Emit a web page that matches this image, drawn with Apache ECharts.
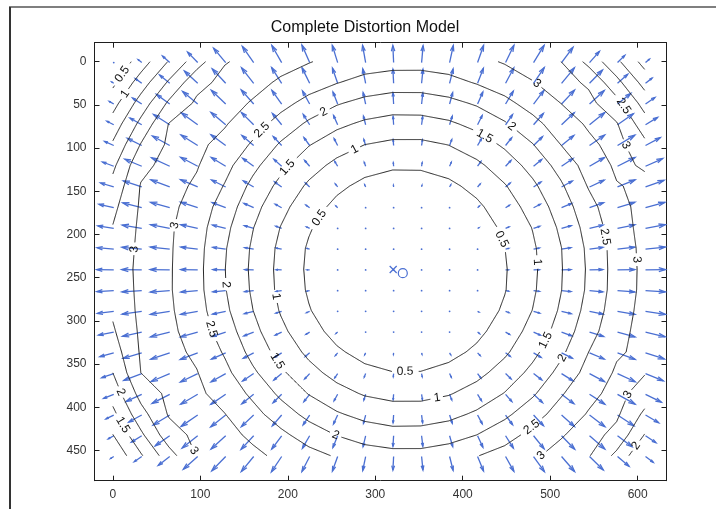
<!DOCTYPE html>
<html>
<head>
<meta charset="utf-8">
<script src="https://cdn.jsdelivr.net/npm/echarts@6/dist/echarts.min.js"></script>
<style>
html,body{margin:0;padding:0;background:#fff;}
#c{width:719px;height:511px;}
</style>
</head>
<body>
<div id="c"></div>
<script>
// Sample positions of the distortion field (image pixel coordinates, 640x480 sensor)
const gridX = [0,32,64,96,128,160,192,224,256,288,320,352,384,416,448,480,512,544,576,608];
const gridY = [0,24,48,72,96,120,144,168,192,216,240,264,288,312,336,360,384,408,432,456];

// Horizontal displacement (pixels) at each sample, one row per gridY value
const DX = [
[-0.04,-0.57,-1.13,-1.58,-1.90,-1.78,-1.54,-1.21,-0.84,-0.48,-0.12,0.23,0.58,0.94,1.31,1.65,1.79,1.55,1.14,0.61],
[-0.32,-1.00,-1.59,-2.08,-2.11,-1.90,-1.57,-1.19,-0.81,-0.45,-0.11,0.21,0.55,0.91,1.28,1.67,2.01,2.03,1.60,1.03],
[-0.70,-1.43,-2.08,-2.36,-2.25,-1.95,-1.53,-1.12,-0.73,-0.39,-0.10,0.19,0.48,0.82,1.21,1.62,2.03,2.30,2.07,1.47],
[-1.07,-1.85,-2.53,-2.55,-2.31,-1.91,-1.45,-1.00,-0.64,-0.34,-0.08,0.16,0.42,0.72,1.09,1.53,1.99,2.38,2.48,1.89],
[-1.43,-2.26,-2.70,-2.62,-2.30,-1.84,-1.32,-0.89,-0.55,-0.28,-0.07,0.13,0.34,0.62,0.97,1.40,1.93,2.37,2.71,2.31],
[-1.77,-2.65,-2.85,-2.68,-2.26,-1.72,-1.21,-0.78,-0.45,-0.22,-0.05,0.09,0.27,0.51,0.85,1.28,1.79,2.33,2.74,2.70],
[-2.06,-2.87,-2.95,-2.69,-2.21,-1.61,-1.10,-0.67,-0.36,-0.15,-0.03,0.06,0.19,0.41,0.73,1.16,1.68,2.29,2.75,2.90],
[-2.31,-2.97,-2.99,-2.67,-2.12,-1.52,-1.00,-0.58,-0.27,-0.08,-0.02,0.03,0.11,0.30,0.63,1.06,1.59,2.19,2.72,3.03],
[-2.49,-3.05,-3.01,-2.65,-2.06,-1.45,-0.92,-0.49,-0.19,-0.05,-0.01,0.01,0.07,0.21,0.54,0.96,1.52,2.12,2.71,3.10],
[-2.61,-3.10,-3.04,-2.65,-2.02,-1.41,-0.87,-0.43,-0.14,-0.03,0.00,0.01,0.04,0.16,0.48,0.91,1.46,2.08,2.69,3.11],
[-2.67,-3.13,-3.05,-2.65,-2.01,-1.40,-0.86,-0.42,-0.13,-0.03,0.00,0.00,0.04,0.15,0.46,0.90,1.46,2.07,2.70,3.11],
[-2.65,-3.11,-3.04,-2.65,-2.02,-1.42,-0.87,-0.44,-0.15,-0.03,0.00,0.00,0.04,0.16,0.47,0.92,1.47,2.08,2.70,3.11],
[-2.55,-3.08,-3.03,-2.67,-2.06,-1.46,-0.92,-0.49,-0.18,-0.06,-0.01,0.02,0.07,0.21,0.53,0.97,1.52,2.13,2.72,3.11],
[-2.39,-3.01,-3.01,-2.69,-2.14,-1.54,-1.00,-0.58,-0.26,-0.09,-0.02,0.03,0.11,0.30,0.62,1.06,1.59,2.20,2.74,3.08],
[-2.17,-2.92,-2.97,-2.72,-2.23,-1.62,-1.10,-0.68,-0.36,-0.15,-0.03,0.06,0.18,0.40,0.73,1.17,1.69,2.30,2.76,2.95],
[-1.89,-2.80,-2.91,-2.71,-2.29,-1.73,-1.22,-0.79,-0.46,-0.22,-0.05,0.09,0.27,0.51,0.86,1.29,1.81,2.35,2.77,2.80],
[-1.58,-2.43,-2.76,-2.66,-2.33,-1.86,-1.34,-0.90,-0.56,-0.28,-0.07,0.13,0.34,0.62,0.98,1.41,1.94,2.40,2.75,2.48],
[-1.23,-2.03,-2.60,-2.60,-2.35,-1.93,-1.46,-1.02,-0.65,-0.34,-0.08,0.16,0.42,0.73,1.10,1.55,2.01,2.41,2.56,2.07],
[-0.86,-1.61,-2.28,-2.44,-2.29,-1.98,-1.56,-1.13,-0.74,-0.40,-0.10,0.19,0.49,0.83,1.22,1.65,2.06,2.39,2.27,1.64],
[-0.48,-1.18,-1.80,-2.25,-2.18,-1.94,-1.61,-1.21,-0.82,-0.45,-0.11,0.21,0.55,0.93,1.30,1.70,2.04,2.16,1.80,1.21]
];

// Vertical displacement (pixels, image y downwards) at each sample
const DY = [
[-0.03,-0.47,-1.04,-1.65,-2.29,-2.56,-2.71,-2.77,-2.74,-2.71,-2.69,-2.68,-2.70,-2.72,-2.74,-2.72,-2.42,-1.78,-1.14,-0.54],
[-0.21,-0.74,-1.32,-1.96,-2.30,-2.46,-2.50,-2.45,-2.39,-2.29,-2.23,-2.22,-2.27,-2.37,-2.42,-2.47,-2.45,-2.11,-1.44,-0.82],
[-0.42,-0.94,-1.53,-1.98,-2.18,-2.24,-2.17,-2.06,-1.91,-1.81,-1.75,-1.75,-1.80,-1.89,-2.04,-2.15,-2.21,-2.13,-1.67,-1.04],
[-0.56,-1.07,-1.64,-1.88,-1.97,-1.93,-1.80,-1.63,-1.48,-1.37,-1.30,-1.30,-1.36,-1.47,-1.61,-1.78,-1.90,-1.93,-1.75,-1.18],
[-0.64,-1.13,-1.50,-1.66,-1.69,-1.60,-1.42,-1.24,-1.09,-0.96,-0.90,-0.89,-0.95,-1.09,-1.24,-1.40,-1.59,-1.66,-1.65,-1.24],
[-0.67,-1.11,-1.34,-1.42,-1.39,-1.26,-1.09,-0.91,-0.75,-0.63,-0.56,-0.56,-0.63,-0.74,-0.91,-1.07,-1.24,-1.37,-1.40,-1.22],
[-0.63,-0.97,-1.12,-1.16,-1.10,-0.95,-0.80,-0.63,-0.48,-0.35,-0.28,-0.28,-0.35,-0.48,-0.63,-0.79,-0.94,-1.09,-1.13,-1.06],
[-0.54,-0.76,-0.86,-0.87,-0.81,-0.69,-0.55,-0.41,-0.27,-0.15,-0.11,-0.11,-0.16,-0.28,-0.41,-0.55,-0.68,-0.79,-0.86,-0.84],
[-0.40,-0.54,-0.60,-0.60,-0.54,-0.45,-0.35,-0.24,-0.13,-0.07,-0.04,-0.04,-0.07,-0.13,-0.24,-0.34,-0.44,-0.53,-0.58,-0.59],
[-0.23,-0.30,-0.33,-0.33,-0.29,-0.24,-0.18,-0.12,-0.06,-0.02,-0.01,-0.01,-0.02,-0.05,-0.12,-0.18,-0.23,-0.28,-0.32,-0.33],
[-0.04,-0.05,-0.06,-0.06,-0.05,-0.04,-0.03,-0.02,-0.01,0.00,0.00,0.00,0.00,-0.01,-0.02,-0.03,-0.04,-0.05,-0.06,-0.06],
[0.15,0.20,0.22,0.22,0.19,0.16,0.12,0.08,0.04,0.01,0.00,0.00,0.02,0.04,0.08,0.12,0.15,0.19,0.21,0.21],
[0.33,0.44,0.49,0.49,0.44,0.37,0.28,0.20,0.10,0.06,0.03,0.03,0.05,0.11,0.20,0.28,0.36,0.43,0.48,0.48],
[0.48,0.67,0.75,0.77,0.70,0.60,0.48,0.36,0.23,0.13,0.09,0.09,0.13,0.24,0.36,0.48,0.59,0.69,0.75,0.74],
[0.60,0.89,1.01,1.05,1.00,0.86,0.72,0.58,0.44,0.31,0.25,0.24,0.31,0.43,0.56,0.71,0.85,0.98,1.03,0.97],
[0.66,1.08,1.26,1.33,1.30,1.17,1.01,0.85,0.70,0.58,0.51,0.51,0.58,0.69,0.84,1.00,1.15,1.27,1.30,1.16],
[0.66,1.13,1.44,1.57,1.59,1.51,1.34,1.17,1.03,0.91,0.85,0.84,0.90,1.02,1.16,1.32,1.49,1.56,1.56,1.24],
[0.61,1.11,1.58,1.80,1.88,1.84,1.71,1.55,1.41,1.31,1.24,1.24,1.29,1.40,1.54,1.69,1.81,1.85,1.71,1.22],
[0.49,1.01,1.60,1.94,2.11,2.16,2.10,1.97,1.84,1.73,1.68,1.68,1.73,1.82,1.95,2.07,2.13,2.10,1.74,1.11],
[0.31,0.83,1.42,2.02,2.27,2.39,2.44,2.38,2.31,2.21,2.16,2.15,2.20,2.30,2.35,2.40,2.38,2.14,1.55,0.92]
];

const principalPoint = [331.5, 244.8];
const imageCenter = [320.5, 240.5];
const contourLevels = [0.5, 1, 1.5, 2, 2.5, 3];
// Contour labels: level and the place along the line where the label sits
const contourLabels = [
  [0.5, 229, 176], [0.5, 443, 206], [0.5, 334, 360], [0.5, 10, 14],
  [1, 273, 94], [1, 485, 232], [1, 371, 391], [1, 185, 272], [1, 18, 40],
  [1.5, 199, 122], [1.5, 193, 343], [1.5, 494, 322], [1.5, 440, 62], [1.5, 12, 420],
  [2, 239, 54], [2, 460, 70], [2, 132, 258], [2, 507, 339], [2, 252, 438], [2, 15, 380], [2, 600, 446],
  [2.5, 561, 203], [2.5, 122, 307], [2.5, 466, 405], [2.5, 150, 60], [2.5, 586, 50],
  [3, 77, 191], [3, 10, 216], [3, 485, 25], [3, 600, 229], [3, 592, 94], [3, 80, 456], [3, 487, 455], [3, 595, 388]
];
const xTicks = [0, 100, 200, 300, 400, 500, 600];
const yTicks = [0, 50, 100, 150, 200, 250, 300, 350, 400, 450];

const FONT = '"Liberation Sans", Arial, Helvetica, sans-serif';
const arrowColor = '#4a6fd2';
const arrowScale = 7.3;

// magnitude of the displacement at every sample
const MAG = DY.map((row, j) => row.map((v, i) => Math.hypot(DX[j][i], v)));

// iso-lines of the magnitude on the sample grid (marching squares, linear edges)
function isoLines(level) {
  const segs = [];
  const nx = gridX.length, ny = gridY.length;
  const cross = (a, b) => (a >= level) !== (b >= level);
  function edge(type, i, j) {
    let a, b, pa, pb;
    if (type === 'h') { a = MAG[j][i]; b = MAG[j][i + 1]; pa = [gridX[i], gridY[j]]; pb = [gridX[i + 1], gridY[j]]; }
    else { a = MAG[j][i]; b = MAG[j + 1][i]; pa = [gridX[i], gridY[j]]; pb = [gridX[i], gridY[j + 1]]; }
    const t = (level - a) / (b - a);
    return { key: type + i + '_' + j, p: [pa[0] + t * (pb[0] - pa[0]), pa[1] + t * (pb[1] - pa[1])] };
  }
  for (let j = 0; j < ny - 1; j++) {
    for (let i = 0; i < nx - 1; i++) {
      const tl = MAG[j][i], tr = MAG[j][i + 1], br = MAG[j + 1][i + 1], bl = MAG[j + 1][i];
      const E = {};
      if (cross(tl, tr)) E.top = edge('h', i, j);
      if (cross(tr, br)) E.right = edge('v', i + 1, j);
      if (cross(bl, br)) E.bottom = edge('h', i, j + 1);
      if (cross(tl, bl)) E.left = edge('v', i, j);
      const keys = Object.keys(E);
      if (keys.length === 2) segs.push([E[keys[0]], E[keys[1]]]);
      else if (keys.length === 4) {
        const c = (tl + tr + br + bl) / 4 >= level;
        if ((tl >= level) !== c) segs.push([E.left, E.top]);
        if ((tr >= level) !== c) segs.push([E.top, E.right]);
        if ((br >= level) !== c) segs.push([E.right, E.bottom]);
        if ((bl >= level) !== c) segs.push([E.bottom, E.left]);
      }
    }
  }
  const map = new Map();
  segs.forEach((s, k) => s.forEach(e => { if (!map.has(e.key)) map.set(e.key, []); map.get(e.key).push(k); }));
  const used = segs.map(() => false);
  const lines = [];
  for (let k = 0; k < segs.length; k++) {
    if (used[k]) continue;
    used[k] = true;
    const pts = [segs[k][0], segs[k][1]];
    for (let dir = 0; dir < 2; dir++) {
      for (;;) {
        const end = dir === 0 ? pts[pts.length - 1] : pts[0];
        const nxt = (map.get(end.key) || []).find(m => !used[m]);
        if (nxt === undefined) break;
        used[nxt] = true;
        const s = segs[nxt];
        const q = s[0].key === end.key ? s[1] : s[0];
        if (dir === 0) pts.push(q); else pts.unshift(q);
      }
    }
    lines.push(pts.map(q => q.p));
  }
  return lines;
}
const contourSet = contourLevels.map(level => ({ level, lines: isoLines(level) }));

function renderContours(params, api) {
  const children = [];
  contourSet.forEach(({ level, lines }) => {
    const pix = lines.map(l => l.map(p => api.coord(p)));
    const labs = [];
    contourLabels.filter(l => l[0] === level).forEach(l => {
      const q = api.coord([l[1], l[2]]);
      let best = null;
      pix.forEach((pl, li) => {
        for (let k = 0; k < pl.length - 1; k++) {
          const a = pl[k], b = pl[k + 1];
          const dx = b[0] - a[0], dy = b[1] - a[1];
          const L2 = dx * dx + dy * dy || 1;
          let t = ((q[0] - a[0]) * dx + (q[1] - a[1]) * dy) / L2;
          t = Math.max(0, Math.min(1, t));
          const p = [a[0] + t * dx, a[1] + t * dy];
          const d = Math.hypot(p[0] - q[0], p[1] - q[1]);
          if (!best || d < best.d) best = { d, li, k, p };
        }
      });
      if (!best) return;
      const pl = pix[best.li];
      const k0 = Math.max(0, best.k - 1), k1 = Math.min(pl.length - 1, best.k + 2);
      let tx = pl[k1][0] - pl[k0][0], ty = pl[k1][1] - pl[k0][1];
      const tl = Math.hypot(tx, ty) || 1; tx /= tl; ty /= tl;
      const text = String(level);
      labs.push({ li: best.li, c: best.p, tx, ty, hw: text.length * 3.5 + 2.5, text });
    });
    pix.forEach((pl, li) => {
      const mine = labs.filter(l => l.li === li);
      let cur = [];
      const flush = () => {
        if (cur.length > 1) children.push({ type: 'polyline', shape: { points: cur }, style: { stroke: '#242424', lineWidth: 1, fill: null } });
        cur = [];
      };
      for (let k = 0; k < pl.length - 1; k++) {
        const a = pl[k], b = pl[k + 1];
        const n = Math.max(1, Math.ceil(Math.hypot(b[0] - a[0], b[1] - a[1])));
        for (let s = (k === 0 ? 0 : 1); s <= n; s++) {
          const p = [a[0] + (b[0] - a[0]) * s / n, a[1] + (b[1] - a[1]) * s / n];
          const hidden = mine.some(l => {
            const rx = p[0] - l.c[0], ry = p[1] - l.c[1];
            return Math.abs(rx * l.tx + ry * l.ty) < l.hw && Math.abs(-rx * l.ty + ry * l.tx) < 8;
          });
          if (hidden) flush(); else cur.push(p);
        }
      }
      flush();
    });
    labs.forEach(l => {
      let ang = Math.atan2(-l.ty, l.tx);
      if (ang > Math.PI / 2) ang -= Math.PI;
      if (ang < -Math.PI / 2) ang += Math.PI;
      children.push({
        type: 'text', x: l.c[0], y: l.c[1], rotation: ang,
        style: { text: l.text, x: 0, y: 0, align: 'center', verticalAlign: 'middle', font: '12px ' + FONT, fill: '#111' }
      });
    });
  });
  return { type: 'group', children };
}

// quiver arrows: shaft from the sample point plus an open head
function renderArrow(params, api) {
  const x = api.value(0), y = api.value(1);
  const u = api.value(2) * arrowScale, v = api.value(3) * arrowScale;
  const p0 = api.coord([x, y]), p1 = api.coord([x + u, y + v]);
  const style = { stroke: arrowColor, lineWidth: 1.3, fill: null };
  if (Math.hypot(p1[0] - p0[0], p1[1] - p0[1]) < 1.5) {
    return { type: 'circle', shape: { cx: p0[0], cy: p0[1], r: 0.9 }, style: { fill: arrowColor } };
  }
  const a = 0.33, b = 0.3;
  const h1 = api.coord([x + u - a * (u + b * v), y + v - a * (v - b * u)]);
  const h2 = api.coord([x + u - a * (u - b * v), y + v - a * (v + b * u)]);
  return {
    type: 'group', children: [
      { type: 'polyline', shape: { points: [p0, p1] }, style },
      { type: 'polyline', shape: { points: [h1, p1, h2] }, style }
    ]
  };
}

const arrowData = [];
gridY.forEach((gy, j) => gridX.forEach((gx, i) => arrowData.push([gx + 1, gy + 1, DX[j][i], DY[j][i]])));

function renderMarkers(params, api) {
  const o = api.coord(principalPoint);
  const c = api.coord(imageCenter);
  const st = { stroke: arrowColor, lineWidth: 1.2, fill: null };
  return {
    type: 'group', children: [
      { type: 'circle', shape: { cx: o[0], cy: o[1], r: 4.5 }, style: st },
      { type: 'line', shape: { x1: c[0] - 3.5, y1: c[1] - 3.5, x2: c[0] + 3.5, y2: c[1] + 3.5 }, style: st },
      { type: 'line', shape: { x1: c[0] - 3.5, y1: c[1] + 3.5, x2: c[0] + 3.5, y2: c[1] - 3.5 }, style: st }
    ]
  };
}

const axisLineStyle = { color: '#1e1e1e', width: 1 };
const baseX = {
  type: 'value', min: -21, max: 633,
  axisLine: { show: true, onZero: false, lineStyle: axisLineStyle },
  axisTick: { show: true, inside: true, length: 5, customValues: xTicks, lineStyle: axisLineStyle },
  splitLine: { show: false }
};
const baseY = {
  type: 'value', min: -22, max: 485, inverse: true,
  axisLine: { show: true, onZero: false, lineStyle: axisLineStyle },
  axisTick: { show: true, inside: true, length: 5, customValues: yTicks, lineStyle: axisLineStyle },
  splitLine: { show: false }
};

const chart = echarts.init(document.getElementById('c'));
chart.setOption({
  animation: false,
  backgroundColor: '#ffffff',
  grid: { left: 94.5, right: 52.5, top: 42.7, bottom: 30.3 },
  xAxis: [
    Object.assign({}, baseX, { position: 'bottom', axisLabel: { customValues: xTicks, margin: 8, color: '#333', fontSize: 12, fontFamily: FONT } }),
    Object.assign({}, baseX, { position: 'top', axisLabel: { show: false } })
  ],
  yAxis: [
    Object.assign({}, baseY, { position: 'left', axisLabel: { customValues: yTicks, margin: 8, color: '#333', fontSize: 12, fontFamily: FONT } }),
    Object.assign({}, baseY, { position: 'right', axisLabel: { show: false } })
  ],
  series: [
    { type: 'custom', coordinateSystem: 'cartesian2d', renderItem: renderArrow, data: arrowData, encode: { x: 0, y: 1 }, silent: true, z: 2 },
    { type: 'custom', coordinateSystem: 'cartesian2d', renderItem: renderMarkers, data: [principalPoint], silent: true, z: 3 },
    { type: 'custom', coordinateSystem: 'cartesian2d', renderItem: renderContours, data: [[300, 240]], silent: true, z: 4 }
  ],
  graphic: [
    { type: 'text', x: 365, y: 28, style: { text: 'Complete Distortion Model', font: '16px ' + FONT, fill: '#111', align: 'center', verticalAlign: 'middle' } },
    { type: 'line', shape: { x1: 9, y1: 7, x2: 716, y2: 7 }, style: { stroke: '#555', lineWidth: 1.5 } },
    { type: 'line', shape: { x1: 10, y1: 7, x2: 10, y2: 509 }, style: { stroke: '#333', lineWidth: 2 } }
  ]
});
</script>
</body>
</html>
